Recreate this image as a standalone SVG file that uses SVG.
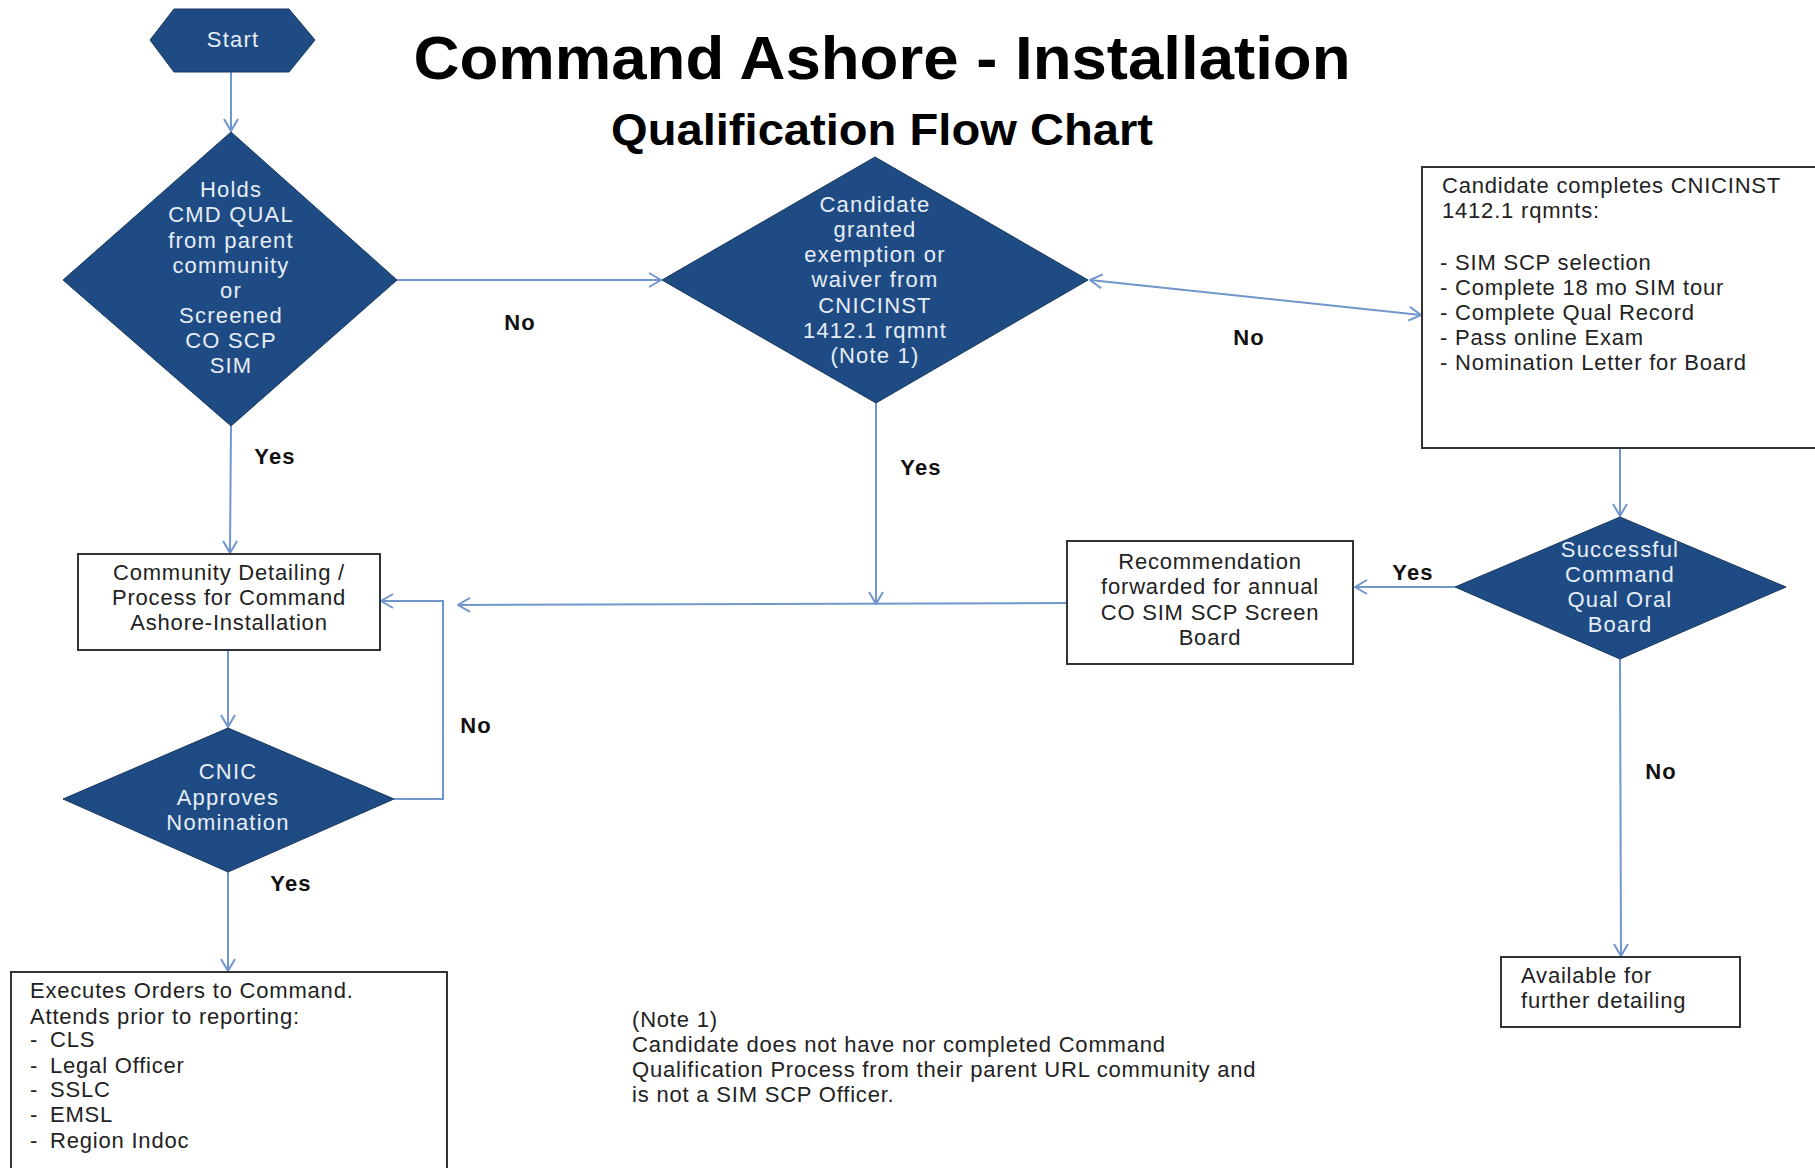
<svg xmlns="http://www.w3.org/2000/svg" width="1815" height="1168" viewBox="0 0 1815 1168">
<defs>
<style>
.dia{fill:#1f4b84;stroke:#18395f;stroke-width:1}
.box{fill:#fff;stroke:#333;stroke-width:2}
.dt{font-family:"Liberation Sans",Arial,sans-serif;font-size:22px;fill:#e6edf7;text-anchor:middle;letter-spacing:1.2px}
.bt{font-family:"Liberation Sans",Arial,sans-serif;font-size:22px;fill:#222;letter-spacing:0.8px}
.btc{text-anchor:middle}
.lbl{font-family:"Liberation Sans",Arial,sans-serif;font-size:22px;font-weight:bold;fill:#111;text-anchor:middle;letter-spacing:1.2px}
.ttl{font-family:"Liberation Sans",Arial,sans-serif;font-weight:bold;fill:#000;text-anchor:middle}
.c{fill:none;stroke:#7096cc;stroke-width:2}
</style>
<marker id="ah" markerWidth="14" markerHeight="16" refX="13" refY="8" orient="auto-start-reverse" markerUnits="userSpaceOnUse">
<path d="M1,1 L13,8 L1,15" fill="none" stroke="#7096cc" stroke-width="2"/>
</marker>
</defs>
<rect width="1815" height="1168" fill="#fff"/>
<g id="title">
<text class="ttl" x="882" y="79" font-size="61" textLength="937" lengthAdjust="spacingAndGlyphs">Command Ashore - Installation</text>
<text class="ttl" x="882" y="145" font-size="45" textLength="542" lengthAdjust="spacingAndGlyphs">Qualification Flow Chart</text>
</g>
<g id="connectors">
<line class="c" x1="231" y1="72" x2="231" y2="131" marker-end="url(#ah)"/>
<line class="c" x1="397" y1="280" x2="661" y2="280" marker-end="url(#ah)"/>
<line class="c" x1="1090" y1="280" x2="1421" y2="315" marker-start="url(#ah)" marker-end="url(#ah)"/>
<line class="c" x1="1620" y1="448" x2="1620" y2="516" marker-end="url(#ah)"/>
<line class="c" x1="1455" y1="587" x2="1355" y2="587" marker-end="url(#ah)"/>
<line class="c" x1="1620" y1="659" x2="1621" y2="956" marker-end="url(#ah)"/>
<line class="c" x1="1067" y1="603" x2="458" y2="605" marker-end="url(#ah)"/>
<line class="c" x1="876" y1="403" x2="876" y2="604" marker-end="url(#ah)"/>
<line class="c" x1="231" y1="426" x2="230" y2="553" marker-end="url(#ah)"/>
<line class="c" x1="228" y1="650" x2="228" y2="727" marker-end="url(#ah)"/>
<polyline class="c" points="394,799 443,799 443,601 381,601" marker-end="url(#ah)"/>
<line class="c" x1="228" y1="872" x2="228" y2="971" marker-end="url(#ah)"/>
<text class="lbl" x="520" y="330">No</text>
<text class="lbl" x="1249" y="345">No</text>
<text class="lbl" x="275" y="464">Yes</text>
<text class="lbl" x="921" y="475">Yes</text>
<text class="lbl" x="1413" y="580">Yes</text>
<text class="lbl" x="476" y="733">No</text>
<text class="lbl" x="1661" y="779">No</text>
<text class="lbl" x="291" y="891">Yes</text>
</g>
<g id="start">
<polygon class="dia" points="150,40 174,9 289,9 315,40 289,72 174,72"/>
<text class="dt" x="233" y="47">Start</text>
</g>
<g id="holds-cmd-qual">
<polygon class="dia" points="231,132 397,280 231,426 63,280"/>
<text class="dt" x="231" y="197">Holds</text>
<text class="dt" x="231" y="222">CMD QUAL</text>
<text class="dt" x="231" y="248">from parent</text>
<text class="dt" x="231" y="273">community</text>
<text class="dt" x="231" y="298">or</text>
<text class="dt" x="231" y="323">Screened</text>
<text class="dt" x="231" y="348">CO SCP</text>
<text class="dt" x="231" y="373">SIM</text>
</g>
<g id="exemption">
<polygon class="dia" points="875,157 1088,280 876,403 662,280"/>
<text class="dt" x="875" y="212">Candidate</text>
<text class="dt" x="875" y="237">granted</text>
<text class="dt" x="875" y="262">exemption  or</text>
<text class="dt" x="875" y="287">waiver from</text>
<text class="dt" x="875" y="313">CNICINST</text>
<text class="dt" x="875" y="338">1412.1 rqmnt</text>
<text class="dt" x="875" y="363">(Note 1)</text>
</g>
<g id="completes">
<rect class="box" x="1422" y="167" width="400" height="281"/>
<text class="bt" x="1442" y="193">Candidate completes CNICINST</text>
<text class="bt" x="1442" y="218">1412.1 rqmnts:</text>
<text class="bt" x="1440" y="270">- SIM  SCP  selection</text>
<text class="bt" x="1440" y="295">- Complete 18 mo SIM  tour</text>
<text class="bt" x="1440" y="320">- Complete  Qual Record</text>
<text class="bt" x="1440" y="345">- Pass online Exam</text>
<text class="bt" x="1440" y="370">- Nomination Letter for Board</text>
</g>
<g id="oral-board">
<polygon class="dia" points="1620,517 1786,587 1620,659 1455,587"/>
<text class="dt" x="1620" y="557">Successful</text>
<text class="dt" x="1620" y="582">Command</text>
<text class="dt" x="1620" y="607">Qual Oral</text>
<text class="dt" x="1620" y="632">Board</text>
</g>
<g id="recommendation">
<rect class="box" x="1067" y="541" width="286" height="123"/>
<text class="bt btc" x="1210" y="569">Recommendation</text>
<text class="bt btc" x="1210" y="594">forwarded for annual</text>
<text class="bt btc" x="1210" y="620">CO SIM  SCP Screen</text>
<text class="bt btc" x="1210" y="645">Board</text>
</g>
<g id="community-detailing">
<rect class="box" x="78" y="554" width="302" height="96"/>
<text class="bt btc" x="229" y="580">Community Detailing /</text>
<text class="bt btc" x="229" y="605">Process for Command</text>
<text class="bt btc" x="229" y="630">Ashore-Installation</text>
</g>
<g id="cnic-approves">
<polygon class="dia" points="228,728 394,799 228,872 63,799"/>
<text class="dt" x="228" y="779">CNIC</text>
<text class="dt" x="228" y="805">Approves</text>
<text class="dt" x="228" y="830">Nomination</text>
</g>
<g id="executes">
<rect class="box" x="11" y="972" width="436" height="210"/>
<text class="bt" x="30" y="998">Executes Orders to Command.</text>
<text class="bt" x="30" y="1024">Attends prior to reporting:</text>
<text class="bt" x="30" y="1047">-<tspan x="50">CLS</tspan></text>
<text class="bt" x="30" y="1073">-<tspan x="50">Legal Officer</tspan></text>
<text class="bt" x="30" y="1097">-<tspan x="50">SSLC</tspan></text>
<text class="bt" x="30" y="1122">-<tspan x="50">EMSL</tspan></text>
<text class="bt" x="30" y="1148">-<tspan x="50">Region Indoc</tspan></text>
</g>
<g id="available">
<rect class="box" x="1501" y="957" width="239" height="70"/>
<text class="bt" x="1521" y="983">Available for</text>
<text class="bt" x="1521" y="1008">further detailing</text>
</g>
<g id="note">
<text class="bt" x="632" y="1027">(Note 1)</text>
<text class="bt" x="632" y="1052">Candidate does not have nor completed Command</text>
<text class="bt" x="632" y="1077">Qualification Process from their parent URL community and</text>
<text class="bt" x="632" y="1102">is not a SIM  SCP Officer.</text>
</g>
</svg>
